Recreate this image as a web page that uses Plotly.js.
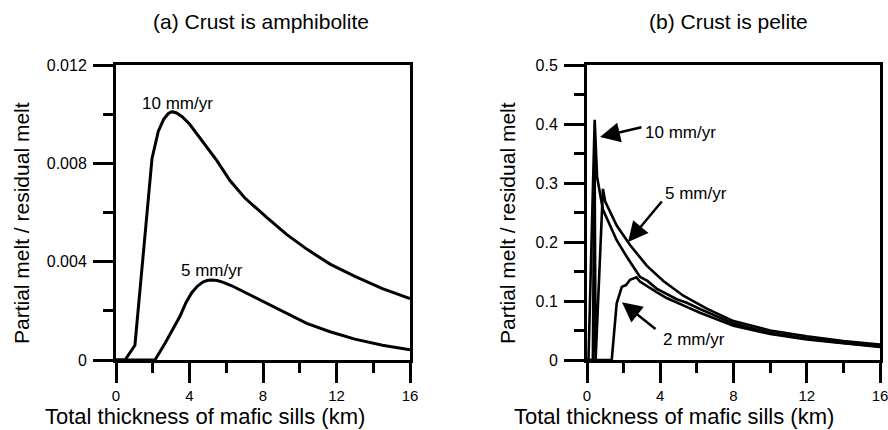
<!DOCTYPE html>
<html>
<head>
<meta charset="utf-8">
<script src="https://cdn.plot.ly/plotly-3.0.1.min.js"></script>
<style>html,body{margin:0;padding:0;background:#fff;}#chart{width:888px;height:430px;}</style>
</head>
<body>
<div id="chart"></div>
<script>
// ---- Panel (a): crust is amphibolite ----
const thickA10 = [0, 0.49, 1.03, 1.5, 1.96, 2.3, 2.6, 2.85, 3.05, 3.3, 3.6, 4.0, 4.5, 5.0, 5.5, 6.2, 7.0, 8.2, 9.3, 10.4, 11.65, 13.0, 14.5, 16.0];
const meltA10  = [0, 0, 0.0006, 0.0045, 0.0082, 0.0093, 0.0098, 0.01003, 0.0101, 0.01005, 0.0099, 0.0096, 0.0091, 0.0086, 0.0081, 0.0073, 0.0066, 0.0058, 0.0051, 0.0045, 0.0039, 0.0034, 0.0029, 0.0025];
const thickA5  = [0, 2.12, 2.67, 3.1, 3.48, 3.8, 4.12, 4.45, 4.75, 5.0, 5.21, 5.5, 5.84, 6.3, 6.75, 7.84, 9.29, 10.38, 11.65, 13.0, 14.5, 16.0];
const meltA5   = [0, 0, 0.00068, 0.00125, 0.00178, 0.00232, 0.00274, 0.00302, 0.00318, 0.00324, 0.00325, 0.00323, 0.00316, 0.00302, 0.00285, 0.00244, 0.0019, 0.00149, 0.00115, 0.00085, 0.0006, 0.00042];

// ---- Panel (b): crust is pelite ----
const thickB10 = [0, 0.08, 0.42, 0.55, 0.87, 1.62, 2.17, 2.89, 3.3, 3.8, 4.9, 5.44, 6.2, 8.0, 10.0, 12.0, 14.0, 16.0];
const meltB10  = [0, 0, 0.407, 0.31, 0.255, 0.203, 0.175, 0.141, 0.134, 0.121, 0.103, 0.097, 0.086, 0.062, 0.046, 0.036, 0.029, 0.023];
const thickB5  = [0, 0.32, 0.41, 0.47, 0.87, 1.0, 1.62, 2.35, 3.26, 4.17, 5.26, 6.54, 8.0, 10.0, 12.0, 14.0, 16.0];
const meltB5   = [0, 0, 0.37, 0, 0.29, 0.268, 0.228, 0.195, 0.16, 0.134, 0.109, 0.087, 0.066, 0.05, 0.04, 0.032, 0.026];
const thickB2  = [0, 1.35, 1.62, 1.9, 2.13, 2.35, 2.7, 2.89, 3.8, 4.35, 5.44, 6.17, 8.0, 10.0, 12.0, 14.0, 16.0];
const meltB2   = [0, 0, 0.096, 0.124, 0.127, 0.136, 0.14, 0.133, 0.115, 0.105, 0.09, 0.08, 0.058, 0.044, 0.035, 0.028, 0.022];

const panelTitles = ['(a) Crust is amphibolite', '(b) Crust is pelite'];
const xTitle = 'Total thickness of mafic sills (km)';
const yTitle = 'Partial melt / residual melt';
const rateLabels = ['10 mm/yr', '5 mm/yr', '2 mm/yr'];

const FONT = 'Liberation Sans, Arial, Helvetica, sans-serif';
const lineStyle = {color: '#000', width: 3};

const traces = [
  {x: thickA10, y: meltA10, name: rateLabels[0], xaxis: 'x', yaxis: 'y', mode: 'lines', line: lineStyle},
  {x: thickA5, y: meltA5, name: rateLabels[1], xaxis: 'x', yaxis: 'y', mode: 'lines', line: lineStyle},
  {x: thickB10, y: meltB10, name: rateLabels[0], xaxis: 'x2', yaxis: 'y2', mode: 'lines', line: {color: '#000', width: 2.6}},
  {x: thickB5, y: meltB5, name: rateLabels[1], xaxis: 'x2', yaxis: 'y2', mode: 'lines', line: {color: '#000', width: 2.6}},
  {x: thickB2, y: meltB2, name: rateLabels[2], xaxis: 'x2', yaxis: 'y2', mode: 'lines', line: {color: '#000', width: 2.6}}
];

function xAxis(domain, anchor) {
  return {
    domain: domain, anchor: anchor, range: [0, 16], tick0: 0, dtick: 4,
    showline: true, linewidth: 3, linecolor: '#000', mirror: true,
    ticks: 'outside', ticklen: 20, tickwidth: 3, tickcolor: '#000',
    minor: {dtick: 2, ticks: 'outside', ticklen: 10, tickwidth: 3, tickcolor: '#000', showgrid: false},
    showgrid: false, zeroline: false, fixedrange: true, ticklabeloverflow: 'allow',
    tickfont: {family: FONT, size: 15, color: '#000'}, ticklabelstandoff: 0
  };
}
function yAxis(domain, anchor, range, dtick) {
  return {
    domain: domain, anchor: anchor, range: range, tick0: 0, dtick: dtick,
    showline: true, linewidth: 3, linecolor: '#000', mirror: true,
    ticks: 'outside', ticklen: 20, tickwidth: 3, tickcolor: '#000',
    minor: {dtick: dtick / 2, ticks: 'outside', ticklen: 10, tickwidth: 3, tickcolor: '#000', showgrid: false},
    showgrid: false, zeroline: false, fixedrange: true, ticklabeloverflow: 'allow',
    tickfont: {family: FONT, size: 16, color: '#000'}, ticklabelstandoff: 3
  };
}

const W = 888, H = 430;
const px = v => v / W;
const py = v => 1 - v / H;
const yDom = [py(360), py(65)];

const txt = (s, size) => ({text: s, font: {family: FONT, size: size, color: '#000'}, showarrow: false});

const annotations = [
  Object.assign(txt(panelTitles[0], 21), {xref: 'paper', yref: 'paper', x: px(261), y: py(21), xanchor: 'center', yanchor: 'middle'}),
  Object.assign(txt(panelTitles[1], 21), {xref: 'paper', yref: 'paper', x: px(728), y: py(21), xanchor: 'center', yanchor: 'middle'}),
  Object.assign(txt(xTitle, 22), {xref: 'paper', yref: 'paper', x: px(205), y: py(416), xanchor: 'center', yanchor: 'middle'}),
  Object.assign(txt(xTitle, 22), {xref: 'paper', yref: 'paper', x: px(674), y: py(416), xanchor: 'center', yanchor: 'middle'}),
  Object.assign(txt(yTitle, 21), {xref: 'paper', yref: 'paper', x: px(21), y: py(223), xanchor: 'center', yanchor: 'middle', textangle: -90}),
  Object.assign(txt(yTitle, 21), {xref: 'paper', yref: 'paper', x: px(507), y: py(223), xanchor: 'center', yanchor: 'middle', textangle: -90}),
  // panel (a) curve labels
  Object.assign(txt(rateLabels[0], 17), {xref: 'x', yref: 'y', x: 3.37, y: 0.01045, xanchor: 'center', yanchor: 'middle'}),
  Object.assign(txt(rateLabels[1], 17), {xref: 'x', yref: 'y', x: 5.25, y: 0.00366, xanchor: 'center', yanchor: 'middle'}),
  // panel (b) curve labels
  Object.assign(txt(rateLabels[0], 17), {xref: 'x2', yref: 'y2', x: 5.08, y: 0.386, xanchor: 'center', yanchor: 'middle'}),
  Object.assign(txt(rateLabels[1], 17), {xref: 'x2', yref: 'y2', x: 5.95, y: 0.283, xanchor: 'center', yanchor: 'middle'}),
  Object.assign(txt(rateLabels[2], 17), {xref: 'x2', yref: 'y2', x: 5.84, y: 0.0356, xanchor: 'center', yanchor: 'middle'}),
  // panel (b) arrows
  {xref: 'x2', yref: 'y2', x: 0.71, y: 0.378, ax: 43, ay: -10, text: '', showarrow: true, arrowhead: 2, arrowsize: 1.6, arrowwidth: 2.5, arrowcolor: '#000'},
  {xref: 'x2', yref: 'y2', x: 2.24, y: 0.2, ax: 35, ay: -42, text: '', showarrow: true, arrowhead: 2, arrowsize: 1.6, arrowwidth: 2.5, arrowcolor: '#000'},
  {xref: 'x2', yref: 'y2', x: 1.91, y: 0.098, ax: 35, ay: 28, text: '', showarrow: true, arrowhead: 2, arrowsize: 1.6, arrowwidth: 2.5, arrowcolor: '#000'}
];

const layout = {
  width: W, height: H,
  margin: {l: 0, r: 0, t: 0, b: 0, pad: 0},
  paper_bgcolor: '#fff', plot_bgcolor: '#fff',
  showlegend: false,
  font: {family: FONT, color: '#000'},
  xaxis: xAxis([px(116), px(410)], 'y'),
  yaxis: yAxis(yDom, 'x', [0, 0.012], 0.004),
  xaxis2: xAxis([px(587), px(880)], 'y2'),
  yaxis2: yAxis(yDom, 'x2', [0, 0.5], 0.1),
  annotations: annotations
};

Plotly.newPlot('chart', traces, layout, {staticPlot: true, displayModeBar: false});
</script>
</body>
</html>
